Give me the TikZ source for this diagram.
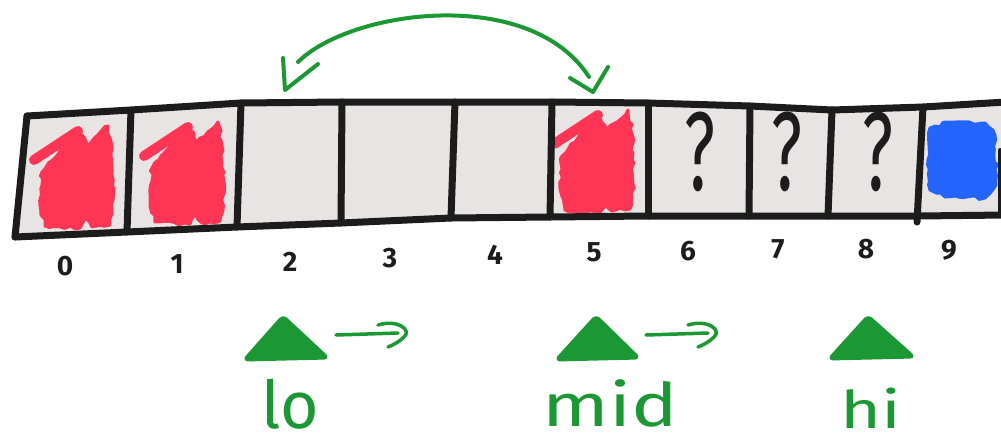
\documentclass[tikz,border=0pt]{standalone}
\usepackage{fontspec}
\setmainfont{Fira Sans}
\setsansfont{Fira Sans}
\usetikzlibrary{decorations.pathmorphing}

\definecolor{inkblack}{HTML}{1C1C1C}
\definecolor{cellgrey}{HTML}{E9E4E4}
\definecolor{markred}{HTML}{FF3556}
\definecolor{markblue}{HTML}{2465FF}
\definecolor{pengreen}{HTML}{1B9733}

\begin{document}
\begin{tikzpicture}[x=1pt,y=-1pt,
  ink/.style={draw=inkblack, line width=7pt, line cap=round, line join=round},
  scribble/.style={decorate, decoration={random steps, segment length=5pt, amplitude=1.8pt}, line width=3pt, line join=round},
  flick/.style={line width=10pt, line cap=round},
  digit/.style={font=\fontsize{28}{30}\selectfont\bfseries, text=inkblack, inner sep=0pt},
  qmark/.style={font=\fontsize{112}{112}\selectfont, text=inkblack, inner sep=0pt},
  pen/.style={draw=pengreen, line width=4pt, line cap=round, line join=round},
  pointer/.style={fill=pengreen, draw=pengreen, line width=3pt, line join=round, rounded corners=4pt},
  varname/.style={text=pengreen, inner sep=0pt, anchor=base}
]
\useasboundingbox (0,0) rectangle (1001,445);

% top and bottom corners of the cell borders
\coordinate (t0) at (27,116);   \coordinate (b0) at (15,237);
\coordinate (t1) at (131,110);  \coordinate (b1) at (127,232);
\coordinate (t2) at (241,103);  \coordinate (b2) at (237,227);
\coordinate (t3) at (342,102);  \coordinate (b3) at (341,223);
\coordinate (t4) at (455,102);  \coordinate (b4) at (451,218);
\coordinate (t5) at (552,102);  \coordinate (b5) at (550,217);
\coordinate (t6) at (648,103);  \coordinate (b6) at (648,216);
\coordinate (t7) at (750,106);  \coordinate (b7) at (749,216);
\coordinate (t8) at (832,110);  \coordinate (b8) at (828,216);
\coordinate (t9) at (923,107);  \coordinate (b9) at (918,216);
\coordinate (t10) at (1006,102); \coordinate (b10) at (1006,215);
\coordinate (b9tail) at (917,222);

% array background
\fill[cellgrey] (t0) -- (t1) -- (t2) -- (t3) -- (t4) -- (t5) -- (t6) -- (t7) -- (t8) -- (t9) -- (t10)
  -- (b10) -- (b9) -- (b8) -- (b7) -- (b6) -- (b5) -- (b4) -- (b3) -- (b2) -- (b1) -- (b0) -- cycle;

% red marks in cells 0, 1 and 5
\foreach \dx/\dy in {0/0, 110/-4, 520/-16}{
  \begin{scope}[shift={(\dx,\dy)}]
    \filldraw[markred, scribble] (42,172) -- (60,150) -- (80,133) -- (88,146) -- (108,126) -- (112,150)
      -- (113,200) -- (110,225) -- (92,227) -- (86,218) -- (80,228) -- (45,226) -- (40,205) -- (42,185) -- cycle;
    \draw[markred, flick] (34,160) -- (78,131);
  \end{scope}
}

% blue mark in cell 9
\filldraw[markblue, scribble] (930,128) -- (950,122) -- (985,123) -- (995,135) -- (996,185) -- (985,198)
  -- (945,197) -- (930,190) -- (928,160) -- cycle;

% outline and dividers
\draw[ink] (t0) -- (t1) -- (t2) -- (t3) -- (t4) -- (t5) -- (t6) -- (t7) -- (t8) -- (t9) -- (t10);
\draw[ink] (b0) -- (b1) -- (b2) -- (b3) -- (b4) -- (b5) -- (b6) -- (b7) -- (b8) -- (b9) -- (b10);
\draw[ink] (t0) -- (b0);
\foreach \i in {1,...,8}{ \draw[ink] (t\i) -- (b\i); }
\draw[ink] (t9) -- (b9tail);
\draw[ink, line width=4pt] (1000,150) -- (1000,214);

% unknown cells
\node[qmark] (q6) at (700,152) {\scalebox{0.6}[1]{?}};
\node[qmark] (q7) at (787,152) {\scalebox{0.6}[1]{?}};
\node[qmark] (q8) at (878,152) {\scalebox{0.6}[1]{?}};

% indices
\node[digit] (d0) at (65,266) {0};
\node[digit] (d1) at (177,264) {1};
\node[digit] (d2) at (290,262) {2};
\node[digit] (d3) at (390,258) {3};
\node[digit] (d4) at (495,255) {4};
\node[digit] (d5) at (594,252) {5};
\node[digit] (d6) at (688,251) {6};
\node[digit] (d7) at (778,249) {7};
\node[digit] (d8) at (866,249) {8};
\node[digit] (d9) at (949,250) {9};

% swap arrow between cells 2 and 5
\coordinate (swapL) at (285,90);
\coordinate (swapR) at (593,92);
\draw[pen] (298,62) .. controls (350,10) and (530,-15) .. (589,77);
\draw[pen] (283,58) -- (swapL) -- (318,64);
\draw[pen] (570,78) -- (swapR) -- (608,67);

% pointers
\fill[pointer] (283,316) -- (328,358) -- (244,360) -- cycle;
\fill[pointer] (596,316) -- (639,358) -- (556,360) -- cycle;
\fill[pointer] (868,316) -- (914,357) -- (829,359) -- cycle;

% movement hints
\foreach \dx in {0,310}{
  \begin{scope}[shift={(\dx,0)}]
    \draw[pen, line width=3.5pt] (336,335) -- (398,333);
    \draw[pen, line width=3.5pt] (378,325) .. controls (398,319) and (412,330) .. (404,337)
      .. controls (399,342) and (393,345) .. (388,347);
  \end{scope}
}

% pointer names
\node[varname, font=\fontsize{66}{66}\selectfont] (lo) at (290,428) {lo};
\node[varname, font=\fontsize{60}{60}\selectfont] (mid) at (610,426) {\scalebox{1.3}[1]{mid}};
\node[varname, font=\fontsize{52}{52}\selectfont] (hi) at (871,428) {\scalebox{1.35}[1]{hi}};
\end{tikzpicture}
\end{document}
